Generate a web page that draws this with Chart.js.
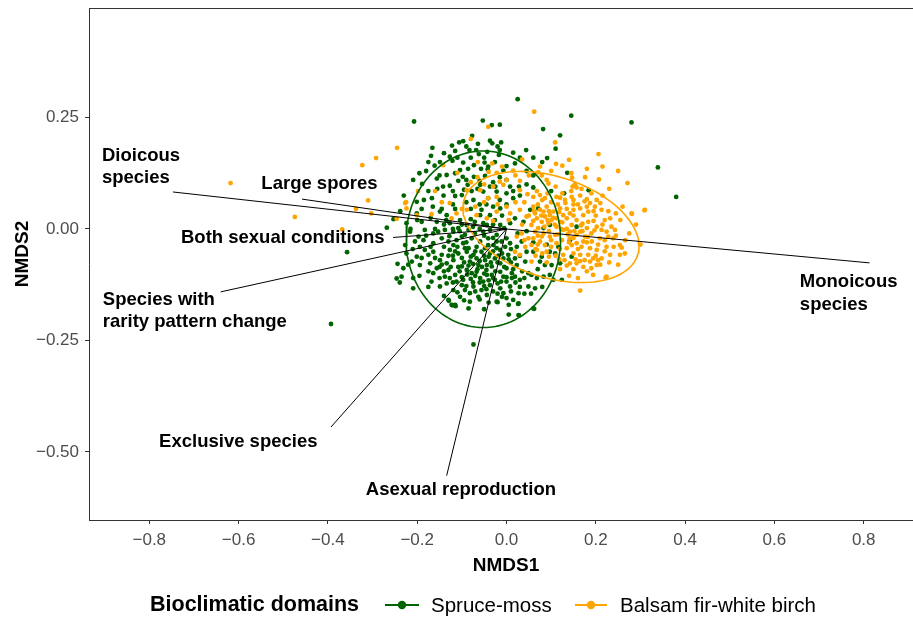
<!DOCTYPE html>
<html>
<head>
<meta charset="utf-8">
<script src="https://cdn.jsdelivr.net/npm/chart.js@4.4.1/dist/chart.umd.min.js"></script>
<style>
  html, body { margin: 0; padding: 0; background: #fff; }
</style>
</head>
<body>
<canvas id="nmds" width="913" height="617"></canvas>
<script>
// NMDS site scores [NMDS1, NMDS2]
let spruceMoss = [
  [0.025,0.291],[-0.207,0.241],[-0.053,0.243],[-0.033,0.233],[-0.015,0.234],[-0.077,0.209],[-0.106,0.194],[-0.097,0.197],[-0.122,0.187],[-0.166,0.182],
  [-0.064,0.191],[-0.037,0.198],[-0.032,0.192],[-0.012,0.194],[-0.169,0.164],[0.015,0.171],[0.044,0.177],[-0.068,0.177],[-0.083,0.177],[-0.062,0.168],
  [-0.043,0.173],[-0.015,0.177],[-0.017,0.166],[-0.127,0.162],[-0.121,0.153],[-0.149,0.150],[-0.161,0.142],[-0.097,0.149],[-0.073,0.143],[-0.049,0.149],
  [-0.041,0.140],[-0.026,0.150],[0.000,0.141],[0.019,0.147],[-0.104,0.132],[-0.086,0.135],[-0.057,0.135],[-0.042,0.134],[-0.007,0.131],[-0.134,0.121],
  [-0.156,0.113],[-0.098,0.117],[-0.073,0.117],[-0.048,0.119],[-0.015,0.116],[-0.209,0.110],[-0.189,0.101],[-0.142,0.095],[-0.127,0.097],[-0.108,0.108],
  [-0.087,0.099],[-0.059,0.099],[-0.037,0.095],[0.008,0.095],[0.028,0.095],[0.045,0.100],[-0.167,0.069],[-0.141,0.075],[-0.115,0.074],[-0.100,0.076],
  [-0.078,0.085],[-0.052,0.084],[-0.022,0.084],[0.015,0.085],[-0.074,0.065],[-0.041,0.069],[-0.015,0.065],[0.015,0.069],[-0.185,0.065],[-0.201,0.061],
  [0.145,0.254],[0.280,0.239],[0.082,0.224],[0.060,0.160],[0.091,0.159],[0.136,0.126],[0.339,0.138],[0.060,0.093],[0.100,0.085],[0.129,0.080],[0.184,0.087],
  [-0.253,0.022],[-0.268,0.003],[-0.357,-0.052],[-0.244,-0.078],[-0.246,-0.111],[-0.393,-0.213],[0.380,0.072],[-0.129,-0.161],[-0.121,-0.171],[-0.114,-0.173],
  [-0.020,-0.164],[0.026,-0.168],[0.028,-0.194],[0.062,-0.179],[-0.074,-0.259],[-0.239,-0.120],
  [-0.201,0.035],[-0.149,0.039],[-0.134,0.031],[-0.056,0.043],[-0.037,0.031],[-0.014,0.046],[0.019,0.024],
  [-0.224,0.013],[-0.190,0.016],[-0.156,0.016],[-0.127,0.013],[-0.104,0.020],[-0.089,0.009],[-0.071,0.016],[-0.052,0.013],[-0.026,0.020],[0.008,0.013],[0.038,0.016],
  [-0.216,-0.006],[-0.183,-0.002],[-0.164,-0.010],[-0.138,-0.002],[-0.119,-0.006],[-0.108,0.002],[-0.085,-0.002],[-0.071,-0.010],[-0.052,-0.006],[-0.037,-0.002],[-0.022,-0.013],[-0.197,-0.017],
  [-0.227,-0.036],[-0.205,-0.028],[-0.186,-0.025],[-0.164,-0.032],[-0.145,-0.021],[-0.130,-0.028],[-0.112,-0.025],[-0.097,-0.032],[-0.078,-0.021],[-0.059,-0.028],
  [-0.041,-0.021],[-0.029,-0.036],[-0.011,-0.028],[0.008,-0.032],[0.023,-0.040],[0.034,-0.028],
  [-0.224,-0.055],[-0.201,-0.062],[-0.183,-0.047],[-0.164,-0.051],[-0.145,-0.058],[-0.127,-0.047],[-0.108,-0.055],[-0.093,-0.043],[-0.074,-0.058],[-0.056,-0.051],
  [-0.037,-0.055],[-0.014,-0.047],[0.004,-0.058],[0.019,-0.066],[0.045,-0.051],
  [-0.212,-0.073],[-0.194,-0.081],[-0.171,-0.077],[-0.156,-0.088],[-0.134,-0.077],[-0.119,-0.070],[-0.100,-0.084],[-0.082,-0.073],[-0.063,-0.081],[-0.048,-0.070],
  [-0.033,-0.084],[-0.014,-0.077],[0.000,-0.088],[0.023,-0.081],[0.042,-0.073],[-0.231,-0.088],
  [-0.235,-0.107],[-0.209,-0.110],[-0.164,-0.099],[-0.138,-0.107],[-0.115,-0.103],[-0.097,-0.114],[-0.078,-0.099],[-0.059,-0.110],[-0.044,-0.103],[-0.026,-0.114],
  [-0.007,-0.107],[0.012,-0.099],[0.030,-0.114],[0.049,-0.099],[-0.168,-0.118],
  [-0.134,-0.122],[-0.100,-0.126],[-0.074,-0.129],[-0.056,-0.137],[-0.037,-0.126],[-0.014,-0.133],[0.008,-0.129],[0.027,-0.144],[0.049,-0.129],[-0.082,-0.144],
  [-0.119,-0.137],[-0.209,-0.133],[-0.130,-0.159],[-0.123,-0.170],[-0.115,-0.170],[-0.082,-0.163],[-0.022,-0.163],[0.027,-0.167],[0.000,-0.155],[0.027,-0.193],
  [-0.119,-0.036],[-0.100,-0.017],[-0.067,-0.040],[-0.048,-0.043],[-0.022,-0.043],[-0.003,-0.040],[-0.089,-0.051],[-0.067,-0.066],[-0.044,-0.081],[-0.026,-0.066],
  [-0.007,-0.066],[-0.089,-0.092],[-0.067,-0.096],[-0.052,-0.118],[-0.033,-0.103],[-0.014,-0.096],[0.000,-0.118],[0.019,-0.107],[-0.112,-0.118],[-0.149,-0.070],
  [-0.175,-0.058],[-0.194,-0.040],[-0.130,-0.092],[-0.149,-0.129],[-0.093,-0.137],[-0.044,-0.148],[-0.063,-0.152],[-0.007,-0.144],[0.015,-0.159],[-0.104,-0.152],
  [-0.127,-0.110],[-0.085,-0.043],[-0.041,-0.036],[-0.022,-0.028],[0.000,-0.021],[-0.014,0.009],[-0.059,0.031],[-0.044,0.009],[-0.093,-0.013],[-0.153,-0.006],
  [0.053,0.043],[0.071,0.046],[0.083,0.002],[0.097,0.009],[0.157,0.005],[0.142,-0.025],[0.116,-0.040],[0.060,-0.051],[0.079,-0.062],[0.097,-0.051],
  [0.109,-0.055],[0.075,-0.073],[0.086,-0.081],[0.101,-0.081],[0.120,-0.077],[0.146,-0.062],[0.056,-0.103],[0.068,-0.110],[0.083,-0.107],[0.097,-0.103],
  [0.105,-0.114],[0.124,-0.114],[0.064,-0.133],[0.060,-0.178],
  [-0.128,-0.016],[-0.110,-0.040],[-0.090,-0.030],[-0.070,-0.050],[-0.050,-0.060],[-0.030,-0.050],[-0.010,-0.055],[0.010,-0.045],[-0.140,-0.040],[-0.120,-0.060],
  [-0.100,-0.065],[-0.080,-0.062],[-0.060,-0.072],[-0.040,-0.062],[-0.020,-0.075],[0.010,-0.075],[0.030,-0.060],[-0.150,-0.085],[-0.125,-0.085],[-0.105,-0.095],
  [-0.085,-0.082],[-0.065,-0.090],[-0.045,-0.092],[-0.025,-0.095],[-0.005,-0.085],[0.015,-0.090],[0.035,-0.095],[-0.140,-0.095],[-0.120,-0.120],[-0.100,-0.108],
  [-0.080,-0.112],[-0.060,-0.120],[-0.040,-0.115],[-0.020,-0.122],[0.000,-0.108],[0.020,-0.120],[0.040,-0.110],[-0.090,-0.128],[-0.070,-0.140],[-0.050,-0.128],
  [-0.030,-0.140],[-0.010,-0.152],[0.010,-0.140],[0.040,-0.145],[-0.110,-0.142],[-0.060,-0.158],[-0.040,-0.165],[0.005,-0.170],[-0.095,-0.160],[-0.150,-0.110],
  [-0.175,-0.095],[-0.190,-0.065],[-0.170,-0.040],[-0.180,-0.015],[-0.160,0.000],[-0.140,0.010],[-0.120,0.000],[-0.100,0.010],[-0.080,0.022],[-0.060,0.000],
  [-0.030,0.010],[-0.005,0.002],[0.025,-0.010],[0.045,-0.005],[-0.210,-0.045],[-0.220,-0.080],[-0.215,0.000],[-0.200,0.020],[0.060,-0.030],[0.070,-0.090],
  [0.080,-0.130],[0.090,-0.035],[0.055,-0.145],[0.030,-0.130],[0.005,-0.192],[-0.050,-0.180],[-0.085,-0.178],[-0.140,-0.150],[-0.175,-0.130],[-0.195,-0.105],
  [-0.180,0.130],[-0.150,0.120],[-0.115,0.125],[-0.090,0.110],[-0.060,0.108],[-0.030,0.105],[0.000,0.110],[-0.175,0.085],[-0.155,0.090],[-0.120,0.085],
  [-0.095,0.088],[-0.065,0.090],[-0.025,0.095],[0.000,0.080],[0.030,0.075],[-0.190,0.045],[-0.165,0.050],[-0.145,0.045],[-0.120,0.055],[-0.090,0.060],
  [-0.060,0.055],[-0.030,0.050],[0.000,0.055],[-0.110,0.160],[-0.080,0.160],[-0.050,0.160],[-0.140,0.170],[-0.020,0.185],[0.030,0.160],[-0.090,0.185],
  [-0.115,0.175],[-0.175,0.150],[-0.195,0.125],[0.045,0.130],[0.060,0.120],[-0.230,0.075],[-0.238,0.040],[0.080,0.150],[0.110,0.180],[0.120,0.210],
  [-0.115,-0.050],[-0.095,-0.075],[-0.075,-0.078],[-0.055,-0.085],[-0.035,-0.075],[-0.018,-0.060],[0.005,-0.068],[-0.130,-0.060],[-0.108,-0.085],[-0.088,-0.102],
  [-0.070,-0.105],[-0.050,-0.100],[-0.030,-0.110],[-0.012,-0.118],[0.012,-0.110],[-0.145,-0.080],[-0.160,-0.065],[-0.075,-0.120],[-0.045,-0.135],[-0.020,-0.145],
  [-0.105,-0.005],[-0.075,0.005],[-0.050,-0.015],[-0.030,-0.020],[-0.135,0.020],[-0.170,0.025],[-0.115,0.045],[-0.080,0.045],[-0.045,0.055],[-0.010,0.030]
];

let balsamFir = [
  [-0.041,0.229],[-0.080,0.202],[0.035,0.156],[-0.142,0.143],[-0.064,0.150],[-0.032,0.147],[-0.110,0.126],[-0.065,0.116],[-0.022,0.126],[0.000,0.110],
  [-0.015,0.106],[0.030,0.108],[0.015,0.131],[-0.007,0.099],[-0.089,0.087],[-0.059,0.087],[-0.160,0.085],[-0.198,0.085],[-0.225,0.060],[-0.145,0.060],
  [-0.041,0.069],[-0.022,0.072],[0.030,0.087],[0.047,0.078],[-0.127,0.058],
  [0.062,0.263],[0.109,0.194],[0.206,0.168],[0.140,0.155],[0.111,0.146],[0.125,0.142],[0.176,0.116],[0.147,0.115],[0.207,0.111],[0.271,0.103],
  [0.094,0.102],[0.071,0.127],[0.079,0.120],[0.153,0.100],[0.157,0.093],[0.168,0.090],[0.148,0.095],[0.068,0.085],[0.120,0.070],[0.131,0.065],
  [0.146,0.072],[0.180,0.067],[0.202,0.065],[0.075,0.076],[0.086,0.069],[0.060,0.072],[0.187,0.058],[0.150,0.055],
  [-0.245,0.182],[-0.292,0.159],[-0.323,0.143],[-0.310,0.064],[-0.337,0.045],[-0.303,0.035],[-0.474,0.027],[-0.368,-0.001],[-0.246,0.023],[-0.618,0.103],
  [0.309,0.042],[0.281,0.034],[0.165,-0.138],[0.222,-0.109],[-0.227,0.058],[-0.224,0.046],[-0.201,0.031],
  [-0.168,0.033],[-0.123,0.024],[-0.112,0.035],[-0.089,0.043],[-0.067,0.031],[-0.044,0.024],[-0.022,0.039],[0.008,0.035],[0.030,0.043],
  [0.045,0.028],[0.023,-0.017],[0.034,-0.010],[0.049,-0.021],[0.042,-0.040],[0.019,-0.051],[0.030,-0.058],
  [0.060,0.050],[0.075,0.043],[0.090,0.050],[0.105,0.039],[0.120,0.046],[0.142,0.035],[0.165,0.046],[0.183,0.039],[0.198,0.050],[0.213,0.043],
  [0.068,0.024],[0.086,0.028],[0.135,0.024],[0.157,0.020],[0.183,0.016],[0.280,0.035],[0.310,0.043],[0.056,0.009],[0.071,0.002],[0.094,0.013],
  [0.112,0.005],[0.127,-0.002],[0.146,0.009],[0.165,-0.006],[0.180,0.002],[0.202,0.005],[0.213,-0.002],[0.224,-0.006],[0.064,-0.006],[0.083,-0.010],
  [0.060,-0.021],[0.075,-0.028],[0.097,-0.017],[0.124,-0.025],[0.142,-0.021],[0.157,-0.032],[0.176,-0.017],[0.191,-0.028],[0.209,-0.021],[0.228,-0.017],
  [0.254,-0.036],[0.266,-0.025],[0.258,-0.042],[0.068,-0.047],[0.090,-0.051],[0.135,-0.043],[0.150,-0.055],[0.168,-0.040],[0.183,-0.058],[0.202,-0.047],
  [0.194,-0.066],[0.213,-0.066],[0.232,-0.058],[0.254,-0.058],[0.165,-0.058],[0.142,-0.077],[0.157,-0.077],[0.165,-0.072],[0.187,-0.073],[0.202,-0.081],
  [0.056,-0.073],[0.194,-0.103],[0.224,-0.107],
  [0.064,0.035],[0.083,0.039],[0.097,0.031],[0.112,0.024],[0.127,0.031],[0.150,0.043],[0.172,0.031],[0.079,0.016],[0.101,0.020],[0.120,0.016],
  [0.142,-0.006],[0.157,-0.013],[0.172,-0.028],[0.112,-0.032],[0.086,-0.036],[0.127,-0.058],[0.146,-0.036],[0.187,-0.043],[0.224,-0.040],[0.239,-0.021],
  [0.243,-0.002],[0.232,0.024],[0.056,-0.036],[0.079,-0.017],[0.109,-0.013],
  [0.070,0.055],[0.095,0.040],[0.115,0.055],[0.135,0.045],[0.160,0.055],[0.180,0.050],[0.200,0.030],[0.220,0.020],[0.060,0.018],[0.085,0.005],
  [0.105,0.025],[0.125,0.015],[0.150,0.030],[0.170,0.012],[0.195,0.018],[0.215,0.010],[0.235,0.005],[0.070,-0.015],[0.095,-0.005],[0.115,-0.012],
  [0.135,0.000],[0.150,-0.020],[0.170,-0.005],[0.190,-0.010],[0.205,-0.035],[0.220,-0.025],[0.245,-0.015],[0.070,-0.035],[0.100,-0.040],[0.120,-0.045],
  [0.140,-0.030],[0.160,-0.045],[0.180,-0.030],[0.200,-0.060],[0.220,-0.050],[0.240,-0.040],[0.110,-0.060],[0.130,-0.070],[0.175,-0.070],[0.210,-0.080],
  [0.230,-0.075],[0.150,-0.090],[0.180,-0.095],[0.120,-0.090],[0.250,-0.080],[0.265,-0.055],[0.275,-0.010],[0.255,0.020],[0.260,0.050],[0.290,0.010],
  [0.080,0.065],[0.100,0.060],[0.125,0.080],[0.145,0.085],[0.110,0.095],[0.090,0.110],[0.165,0.075],[0.190,0.080],[0.215,0.075],[0.230,0.090],
  [0.250,0.130],[0.215,0.140],[0.180,0.135],[0.145,0.125],[0.100,0.130],[0.075,0.140],[0.050,0.120],[0.040,0.060],[0.020,0.060],[0.000,0.050],
  [-0.020,0.055],[-0.050,0.060],[-0.070,0.050],[-0.100,0.045],[-0.050,0.100],[-0.030,0.095],[-0.080,0.105],[0.020,0.120],[-0.010,0.140],[-0.040,0.128],
  [0.050,0.030],[0.035,0.010],[0.040,-0.025],[0.005,0.020],[-0.030,0.018],[0.065,-0.060],[0.090,-0.075],[0.160,-0.110],[0.140,-0.105],[0.300,-0.035],
  [0.062,0.040],[0.078,0.030],[0.092,0.020],[0.108,0.010],[0.122,0.000],[0.137,-0.012],[0.152,-0.005],[0.167,0.008],[0.182,-0.018],[0.197,-0.003],
  [0.065,-0.045],[0.080,-0.055],[0.095,-0.062],[0.118,-0.068],[0.135,-0.082],[0.155,-0.068],[0.172,-0.085],[0.190,-0.088],[0.205,-0.070],[0.100,-0.025],
  [0.118,0.038],[0.132,0.058],[0.150,0.065],[0.175,0.062],[0.195,0.040],[0.210,0.058],[0.228,0.040],[0.245,0.035],[0.092,0.080],[0.112,0.072]
];

let xTicks = [-0.8, -0.6, -0.4, -0.2, 0, 0.2, 0.4, 0.6, 0.8];
let yTicks = [-0.5, -0.25, 0, 0.25];

// trait vectors: label lines, arrow tip, label anchor (left edge, first line)
let vectorNames = [
  ["Dioicous", "species"],
  ["Large spores"],
  ["Both sexual conditions"],
  ["Species with", "rarity pattern change"],
  ["Exclusive species"],
  ["Asexual reproduction"],
  ["Monoicous", "species"]
];
let vectorTips = [
  [-0.747, 0.083], [-0.458, 0.067], [-0.254, -0.019], [-0.640, -0.141],
  [-0.393, -0.444], [-0.134, -0.553], [0.813, -0.076]
];
let vectorLabelAt = [
  [-0.906, 0.164], [-0.549, 0.102], [-0.729, -0.020], [-0.904, -0.159],
  [-0.778, -0.478], [-0.315, -0.585], [0.657, -0.119]
];

// 95% ellipses: centre x, centre y, semi-axis a, semi-axis b, rotation (deg)
let spruceEllipse = [-0.052, -0.023, 0.173, 0.198, 0];
let balsamEllipse = [0.0997, 0.0045, 0.204, 0.113, -18];

const FONT = '"Liberation Sans", Arial, Helvetica, sans-serif';
const GREEN = '#006400';
const ORANGE = '#FFA500';

Chart.defaults.font.family = FONT;

function toXY(arr) {
  return arr.map(p => ({ x: p[0], y: p[1] }));
}

function ellipsePath(e) {
  const [cx, cy, a, b, deg] = e;
  const r = deg * Math.PI / 180;
  const pts = [];
  for (let i = 0; i <= 120; i++) {
    const t = i / 120 * 2 * Math.PI;
    const u = a * Math.cos(t), v = b * Math.sin(t);
    pts.push({ x: cx + u * Math.cos(r) - v * Math.sin(r), y: cy + u * Math.sin(r) + v * Math.cos(r) });
  }
  return pts;
}

let datasets = [
  { label: 'Spruce-moss', data: toXY(spruceMoss), backgroundColor: GREEN, borderWidth: 0, pointRadius: 2.4, order: 5 },
  { label: 'Balsam fir-white birch', data: toXY(balsamFir), backgroundColor: ORANGE, borderWidth: 0, pointRadius: 2.4, order: 4 },
  { data: ellipsePath(spruceEllipse), showLine: true, borderColor: GREEN, borderWidth: 1.6, pointRadius: 0, fill: false, order: 3 },
  { data: ellipsePath(balsamEllipse), showLine: true, borderColor: ORANGE, borderWidth: 1.6, pointRadius: 0, fill: false, order: 2 }
];
vectorTips.forEach(tip => {
  datasets.push({ data: [{ x: 0, y: 0 }, { x: tip[0], y: tip[1] }], showLine: true,
    borderColor: '#000', borderWidth: 1, pointRadius: 0, fill: false, order: 1 });
});

const overlay = {
  id: 'overlay',
  afterDatasetsDraw(chart) {
    const { ctx, chartArea, scales } = chart;
    ctx.save();
    // top edge of the panel
    ctx.strokeStyle = '#333';
    ctx.lineWidth = 1;
    ctx.beginPath();
    ctx.moveTo(chartArea.left, chartArea.top + 0.5);
    ctx.lineTo(chartArea.right, chartArea.top + 0.5);
    ctx.stroke();

    ctx.fillStyle = '#000';
    ctx.font = 'bold 18.5px ' + FONT;
    ctx.textAlign = 'left';
    ctx.textBaseline = 'middle';
    vectorNames.forEach((lines, i) => {
      const px = scales.x.getPixelForValue(vectorLabelAt[i][0]);
      const py = scales.y.getPixelForValue(vectorLabelAt[i][1]);
      lines.forEach((t, j) => ctx.fillText(t, px, py + j * 22.5));
    });
    ctx.restore();
  },
  afterDraw(chart) {
    const ctx = chart.ctx;
    ctx.save();
    ctx.fillStyle = '#000';
    ctx.textBaseline = 'middle';

    // axis titles
    ctx.font = 'bold 19px ' + FONT;
    ctx.textAlign = 'center';
    ctx.fillText('NMDS1', 506, 566);
    ctx.save();
    ctx.translate(23, 254);
    ctx.rotate(-Math.PI / 2);
    ctx.fillText('NMDS2', 0, 0);
    ctx.restore();

    // legend
    const ly = 605;
    ctx.textAlign = 'left';
    ctx.font = 'bold 21.5px ' + FONT;
    ctx.fillText('Bioclimatic domains', 150, ly);
    const keys = [
      { color: GREEN, text: 'Spruce-moss', x0: 385, x1: 419, tx: 431 },
      { color: ORANGE, text: 'Balsam fir-white birch', x0: 575, x1: 607, tx: 620 }
    ];
    ctx.font = '20.5px ' + FONT;
    keys.forEach(k => {
      ctx.strokeStyle = k.color;
      ctx.lineWidth = 2;
      ctx.beginPath();
      ctx.moveTo(k.x0, ly);
      ctx.lineTo(k.x1, ly);
      ctx.stroke();
      ctx.fillStyle = k.color;
      ctx.beginPath();
      ctx.arc((k.x0 + k.x1) / 2, ly, 4.2, 0, 2 * Math.PI);
      ctx.fill();
      ctx.fillStyle = '#000';
      ctx.fillText(k.text, k.tx, ly + 1);
    });
    ctx.restore();
  }
};

function fmt(v, d) {
  return v.toFixed(d).replace('-', '\u2212');
}

new Chart(document.getElementById('nmds').getContext('2d'), {
  type: 'scatter',
  data: { datasets: datasets },
  options: {
    responsive: false,
    animation: false,
    devicePixelRatio: 1,
    layout: { autoPadding: false, padding: { top: 8, right: 0, bottom: 0, left: 0 } },
    plugins: { legend: { display: false }, tooltip: { enabled: false } },
    scales: {
      x: {
        type: 'linear',
        min: -0.935,
        max: 0.9104,
        afterBuildTicks: s => { s.ticks = xTicks.map(v => ({ value: v })); },
        afterFit: s => { s.height = 97; s.paddingLeft = 0; s.paddingRight = 0; },
        grid: { drawOnChartArea: false, drawTicks: true, tickLength: 4, color: '#333' },
        border: { display: true, color: '#333', width: 1 },
        ticks: { color: '#4D4D4D', font: { size: 17 }, padding: 6, maxRotation: 0, callback: v => fmt(v, 1) }
      },
      y: {
        type: 'linear',
        min: -0.6525,
        max: 0.4955,
        afterBuildTicks: s => { s.ticks = yTicks.map(v => ({ value: v })); },
        afterFit: s => { s.width = 89; s.paddingTop = 0; s.paddingBottom = 0; },
        grid: { drawOnChartArea: false, drawTicks: true, tickLength: 4, color: '#333' },
        border: { display: true, color: '#333', width: 1 },
        ticks: { color: '#4D4D4D', font: { size: 17 }, padding: 6, callback: v => fmt(v, 2) }
      }
    }
  },
  plugins: [overlay]
});
</script>
</body>
</html>
